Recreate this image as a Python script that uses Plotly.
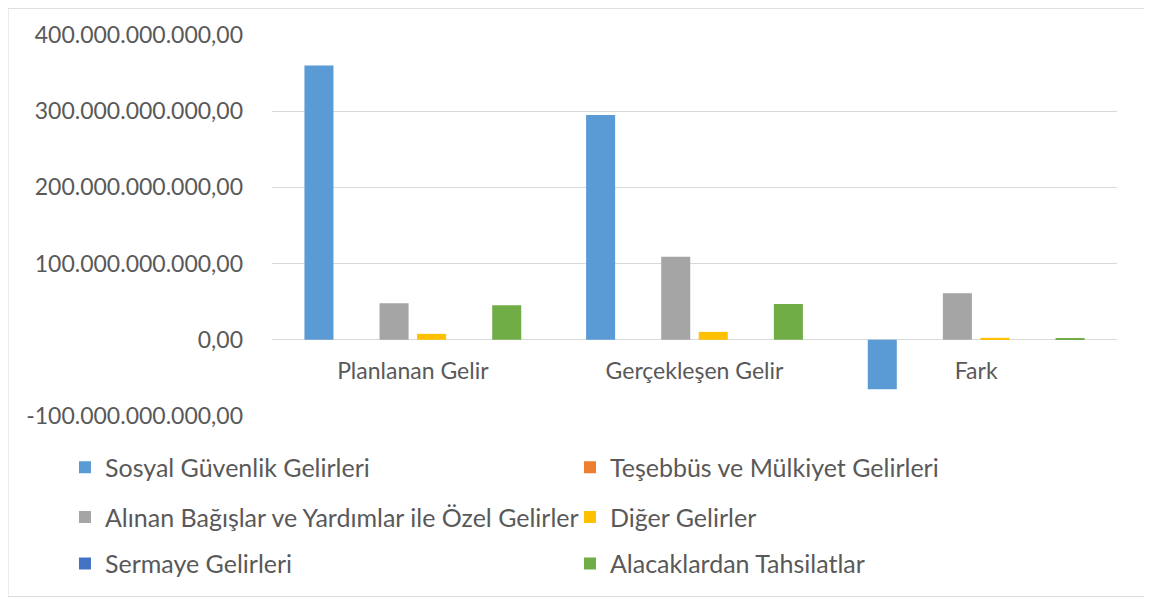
import plotly.graph_objects as go

categories = ['Planlanan Gelir', 'Gerçekleşen Gelir', 'Fark']

series_names = [
    'Sosyal Güvenlik Gelirleri',
    'Teşebbüs ve Mülkiyet Gelirleri',
    'Alınan Bağışlar ve Yardımlar ile Özel Gelirler',
    'Diğer Gelirler',
    'Sermaye Gelirleri',
    'Alacaklardan Tahsilatlar',
]

# values in TL (billions)
sosyal = [360.0e9, 295.0e9, -65.0e9]
tesebbus = [0.0, 0.0, 0.0]
alinan = [48.0e9, 109.0e9, 61.0e9]
diger = [7.8e9, 10.4e9, 2.6e9]
sermaye = [0.0, 0.0, 0.0]
alacak = [45.5e9, 47.0e9, 1.5e9]

tick_values = [-100e9, 0, 100e9, 200e9, 300e9, 400e9]
tick_labels = ['-100.000.000.000,00', '0,00', '100.000.000.000,00',
               '200.000.000.000,00', '300.000.000.000,00', '400.000.000.000,00']

colors = ['#5B9BD5', '#ED7D31', '#A5A5A5', '#FFC000', '#4472C4', '#70AD47']
legend_ids = ['legend', 'legend', 'legend2', 'legend2', 'legend3', 'legend3']

font_family = 'Lato, Open Sans, sans-serif'
text_color = '#595959'

fig = go.Figure()
for name, vals, col, lg in zip(series_names,
                               [sosyal, tesebbus, alinan, diger, sermaye, alacak],
                               colors, legend_ids):
    fig.add_trace(go.Bar(
        x=categories, y=vals, name=name,
        marker_color=col, marker_line_width=0,
        legend=lg,
    ))

legend_common = dict(
    orientation='h', xanchor='left', yanchor='middle',
    x=-0.245, entrywidth=460, entrywidthmode='pixels',
    font=dict(family=font_family, size=25, color=text_color),
    bgcolor='rgba(0,0,0,0)', itemclick=False,
)

# the page body adds an 8px offset, so the figure is 8px smaller each way
fig.update_layout(
    width=1144, height=598,
    paper_bgcolor='white', plot_bgcolor='white',
    margin=dict(l=264, r=35, t=24, b=190),
    barmode='group', bargap=0.2, bargroupgap=0.227,
    font=dict(family=font_family, size=23, color=text_color),
    yaxis=dict(
        range=[-100e9, 400e9], tickvals=tick_values, ticktext=tick_labels,
        showgrid=True, gridcolor='#D9D9D9', gridwidth=1,
        zeroline=True, zerolinecolor='#D9D9D9', zerolinewidth=1,
        ticks='', ticklabelstandoff=28,
        tickfont=dict(family=font_family, size=23, color=text_color),
    ),
    xaxis=dict(
        anchor='free', position=0.2,
        showline=False, showgrid=False, ticks='',
        ticklabelstandoff=15,
        tickfont=dict(family=font_family, size=23, color=text_color),
    ),
    legend=dict(legend_common, y=-0.135),
    legend2=dict(legend_common, y=-0.266),
    legend3=dict(legend_common, y=-0.388),
    shapes=[dict(
        type='rect', xref='paper', yref='paper',
        x0=-0.3124, x1=1.0331, y0=-0.474, y1=1.07,
        line=dict(color='#D9D9D9', width=1), layer='below',
    )],
)

fig.write_html('out.html')
